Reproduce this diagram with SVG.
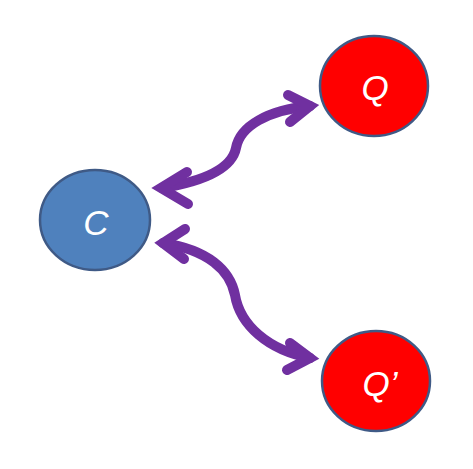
<svg xmlns="http://www.w3.org/2000/svg" width="473" height="469" viewBox="0 0 473 469">
<style>
.node{stroke:#3F5A86;stroke-width:2.5}
.lbl{font-family:"Liberation Sans",Arial,sans-serif;font-style:italic;font-size:35px;fill:#ffffff;text-anchor:middle}
.arr{fill:none;stroke:#7030A0;stroke-width:10;stroke-linecap:round;stroke-linejoin:miter;stroke-miterlimit:10}
</style>
<rect width="473" height="469" fill="#ffffff"/>
<g id="connectors">
<path class="arr" d="M162,188 C205,181 232,168 236,148 C240,126 268,110 310,106"/>
<path class="arr" d="M187,172 L161,188 L188,204"/>
<path class="arr" d="M288,95 L310,106 L290,122"/>
<path class="arr" d="M163,243 C208,250 230,270 235,295 C240,325 268,350 310,358"/>
<path class="arr" d="M185,229 L163,243 L184,259"/>
<path class="arr" d="M290,343 L310,358 L287,370"/>
</g>
<g id="C">
<ellipse class="node" cx="95" cy="220" rx="55" ry="50" fill="#4F81BD"/>
<text class="lbl" x="96" y="235">C</text>
</g>
<g id="Q">
<ellipse class="node" cx="374" cy="86" rx="54" ry="50" fill="#FF0000"/>
<text class="lbl" x="375" y="100">Q</text>
</g>
<g id="Qprime">
<ellipse class="node" cx="376" cy="381" rx="54" ry="50" fill="#FF0000"/>
<text class="lbl" x="380" y="396">Q’</text>
</g>
</svg>
